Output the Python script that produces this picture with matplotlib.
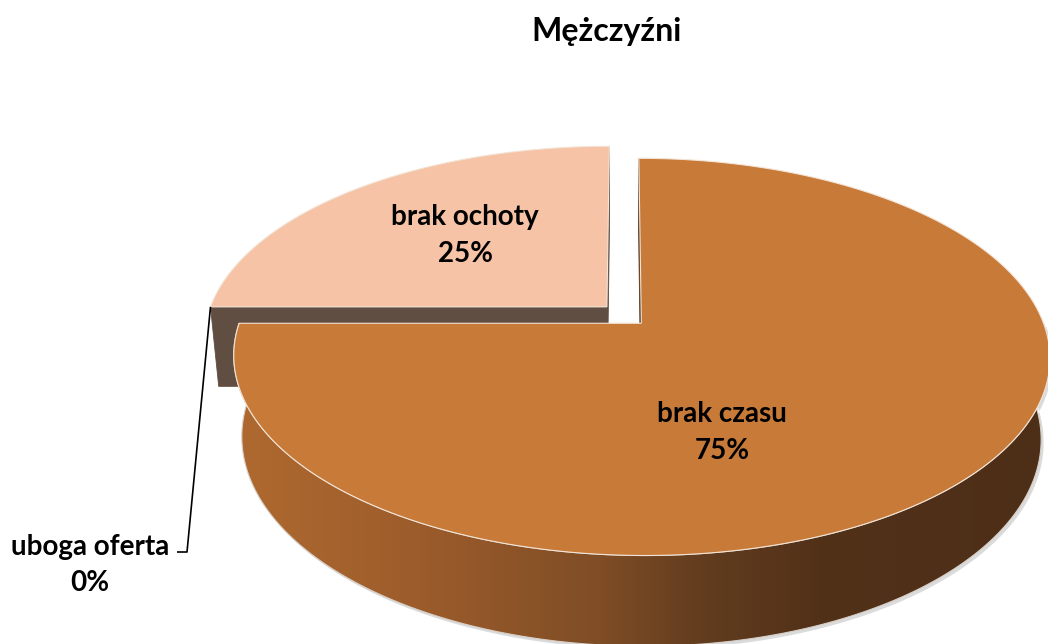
import numpy as np
import matplotlib
matplotlib.use("Agg")
import matplotlib.pyplot as plt
from matplotlib.patches import Polygon
from matplotlib.colors import to_rgb

# ---------------- data ----------------
title = "Mężczyźni"
categories = ["brak czasu", "uboga oferta", "brak ochoty"]
values = [75, 0, 25]
top_colors = ["#C87A38", "#8C5A3A", "#F6C3A6"]
face_colors = ["#5A3A1F", "#614E42", "#614E42"]

# ---------------- layout / style ----------------
W, H = 1048, 644
X0, Y0 = 624, 315          # screen position of pie centre
S, D = 2126.0, 5.25        # focal scale, camera distance
KX = 0.986                 # horizontal scale tweak
PHI = np.radians(28)       # view tilt
T = 0.228                  # pie thickness
EXPLODE = 0.061
FONT = ["Lato", "DejaVu Sans"]
side_stops = [(230, "#B06A30"), (420, "#9C5C2B"), (600, "#7F4D26"),
              (700, "#623D1F"), (820, "#523119"), (1048, "#4D2E17")]
# label placement (clockwise angle from 12 o'clock, radius) for inner labels
label_pos = {"brak czasu": (160.9, 0.547), "brak ochoty": (316.6, 0.56)}
outer_label_xy = (90, 565)
outer_elbow = (187, 552)
LABEL_SIZE = 20
TITLE_SIZE = 23


def proj(X, Y, Z):
    X = np.asarray(X, float); Y = np.asarray(Y, float); Z = np.asarray(Z, float)
    depth = D + Y * np.cos(PHI) - Z * np.sin(PHI)
    sx = X0 + KX * S * X / depth
    sy = Y0 - S * (Y * np.sin(PHI) + Z * np.cos(PHI)) / depth
    return sx, sy


def pts(X, Y, Z):
    sx, sy = proj(X, Y, Z)
    return np.column_stack([np.atleast_1d(sx), np.atleast_1d(sy)])


fig = plt.figure(figsize=(W / 100, H / 100), dpi=100)
ax = fig.add_axes([0, 0, 1, 1])
ax.set_xlim(0, W)
ax.set_ylim(H, 0)
ax.axis("off")

total = float(sum(values))
ends = np.cumsum(values) / total * 360.0
starts = ends - np.array(values) / total * 360.0

cam = np.array([0.0, -D * np.cos(PHI), D * np.sin(PHI)])

slices = []
for i, v in enumerate(values):
    s, e = starts[i], ends[i]
    mid = np.radians((s + e) / 2)
    off = EXPLODE * np.array([np.sin(mid), np.cos(mid)])
    slices.append((i, s, e, off))


def slice_depth(sl):
    i, s, e, off = sl
    a = np.radians(np.linspace(s, e, 50))
    return np.mean(np.cos(a)) + off[1]


drawn = [sl for sl in slices if values[sl[0]] > 0]
drawn.sort(key=slice_depth, reverse=True)

# gradient image for outer side
gx = np.arange(W)
sx_pos = [p for p, c in side_stops]
cols = np.array([to_rgb(c) for p, c in side_stops])
grad = np.stack([np.interp(gx, sx_pos, cols[:, k]) for k in range(3)], axis=-1)
grad_img = np.repeat(grad[None, :, :], 2, axis=0)

z = 1
for (i, s, e, off) in drawn:
    ox, oy = off
    # radial faces
    for ang, nang in ((s, s - 90), (e, e + 90)):
        a = np.radians(ang)
        n = np.array([np.sin(np.radians(nang)), np.cos(np.radians(nang)), 0.0])
        pmid = np.array([ox + 0.5 * np.sin(a), oy + 0.5 * np.cos(a), -T / 2])
        if np.dot(n, cam - pmid) > 0:
            r = np.array([0, 1])
            P = np.vstack([
                pts(ox + r * np.sin(a), oy + r * np.cos(a), np.zeros(2)),
                pts(ox + r[::-1] * np.sin(a), oy + r[::-1] * np.cos(a), -T * np.ones(2)),
            ])
            ax.add_patch(Polygon(P, closed=True, fc=face_colors[i], ec=face_colors[i],
                                 lw=0.6, zorder=z))
    z += 1
    # outer side (front half only)
    a0, a1 = max(s, 90), min(e, 270)
    if a1 > a0:
        a = np.radians(np.linspace(a0, a1, 300))
        top = pts(ox + np.sin(a), oy + np.cos(a), np.zeros_like(a))
        bot = pts(ox + np.sin(a[::-1]), oy + np.cos(a[::-1]), -T * np.ones_like(a))
        P = np.vstack([top, bot])
        shadow = Polygon(P + np.array([2.5, 3.0]), closed=True, fc="#9A9A9A",
                         ec="none", alpha=0.35, zorder=z)
        ax.add_patch(shadow)
        z += 1
        side = Polygon(P, closed=True, fc="none", ec="#D8D0C8", lw=0.8, zorder=z + 0.5)
        ax.add_patch(side)
        clip = Polygon(P, closed=True, fc="none", ec="none", transform=ax.transData)
        ax.add_patch(clip)
        im = ax.imshow(grad_img, extent=(0, W, H, 0), aspect="auto", zorder=z,
                       interpolation="bilinear")
        im.set_clip_path(clip)
        z += 1
    # top surface
    a = np.radians(np.linspace(s, e, 400))
    arc = pts(ox + np.sin(a), oy + np.cos(a), np.zeros_like(a))
    apex = pts(ox, oy, 0.0)
    P = np.vstack([apex, arc])
    ax.add_patch(Polygon(P, closed=True, fc=top_colors[i], ec="#F3E4D6", lw=0.8,
                         zorder=z))
    z += 1

# ---------------- labels ----------------
pct = [f"{round(v / total * 100):d}%" for v in values]
for (i, s, e, off) in slices:
    name = categories[i]
    if name in label_pos:
        ang, r = label_pos[name]
        a = np.radians(ang)
        lx, ly = proj(off[0] + r * np.sin(a), off[1] + r * np.cos(a), 0.0)
        ax.text(lx, ly, f"{name}\n{pct[i]}", ha="center", va="center",
                fontsize=LABEL_SIZE, fontweight="bold", family=FONT,
                linespacing=1.5, zorder=50)
    else:
        # zero slice: label outside with a leader line to its edge
        nxt = slices[(i + 1) % len(slices)]
        a = np.radians(s)
        nox, noy = nxt[3]
        axp, ayp = proj(nox + np.sin(a), noy + np.cos(a), 0.0)
        ax.plot([float(axp), outer_elbow[0], outer_elbow[0] - 10],
                [float(ayp), outer_elbow[1], outer_elbow[1]],
                color="black", lw=1.2, zorder=50, solid_capstyle="butt")
        ax.text(outer_label_xy[0], outer_label_xy[1], f"{name}\n{pct[i]}",
                ha="center", va="center", fontsize=LABEL_SIZE, fontweight="bold",
                family=FONT, linespacing=1.5, zorder=50)

ax.text(607, 31, title, ha="center", va="center", fontsize=TITLE_SIZE,
        fontweight="bold", family=FONT, zorder=50)

fig.savefig("out.png", dpi=100)
